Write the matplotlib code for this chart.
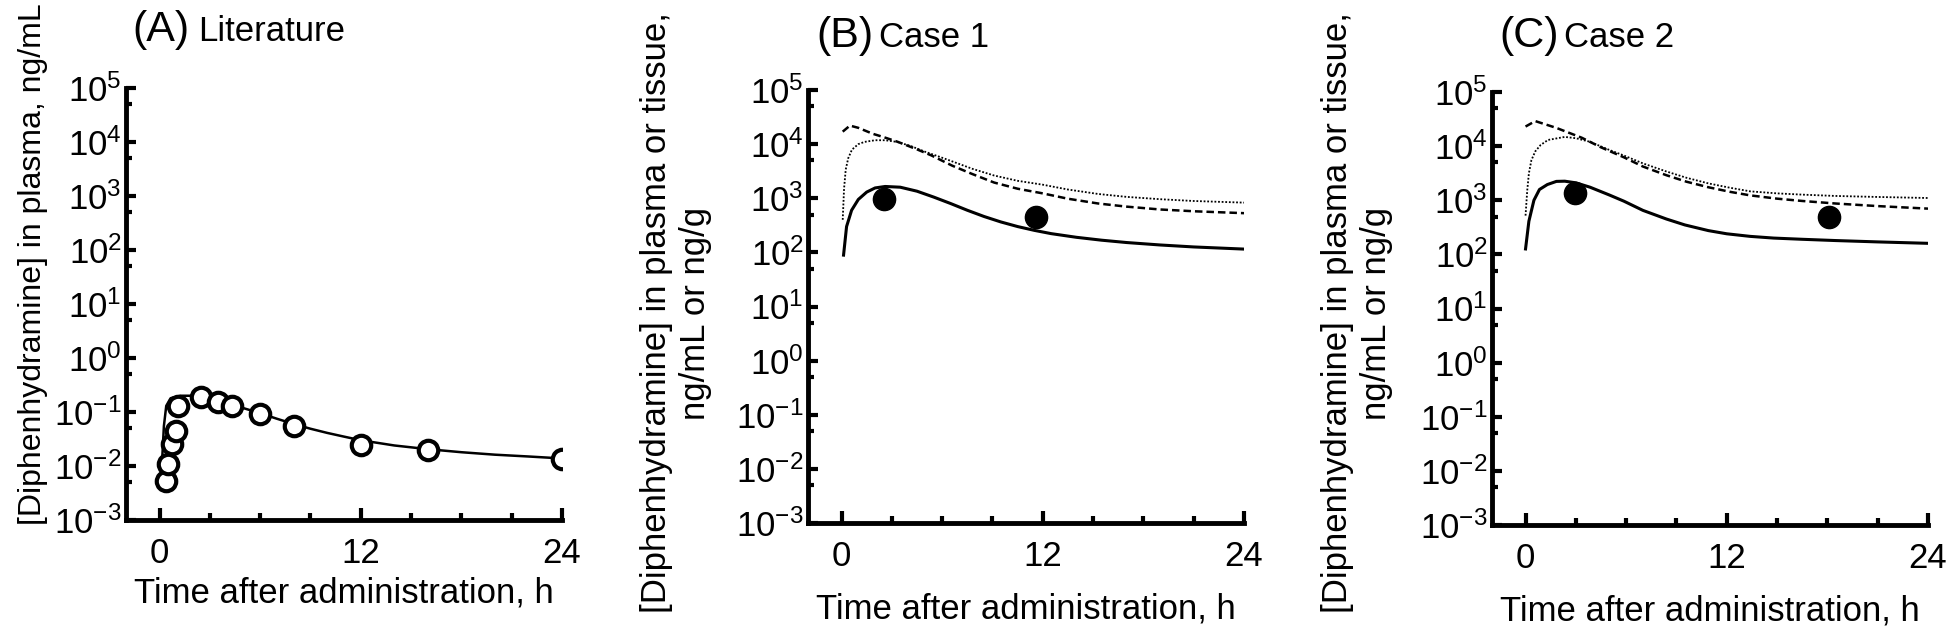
import matplotlib
matplotlib.use("Agg")
import matplotlib.pyplot as plt
from matplotlib.ticker import NullFormatter

plt.rcParams['font.family'] = 'Liberation Sans'
plt.rcParams['mathtext.default'] = 'regular'

W, H = 1946, 626

# y ticks (log) and x ticks
y_ticks = [1e-3, 1e-2, 1e-1, 1e0, 1e1, 1e2, 1e3, 1e4, 1e5]
y_labels = ['$10^{-3}$', '$10^{-2}$', '$10^{-1}$', '$10^{0}$', '$10^{1}$',
            '$10^{2}$', '$10^{3}$', '$10^{4}$', '$10^{5}$']
y_minor = [5e-3, 5e-2, 5e-1, 5e0, 5e1, 5e2, 5e3, 5e4]
x_ticks = [0, 12, 24]
x_labels = ['0', '12', '24']
x_minor = [3, 6, 9, 15, 18, 21]

# (A) literature: observed plasma conc. and fitted curve
a_obs_t = [0.4, 0.5, 0.75, 1.0, 1.1, 2.5, 3.5, 4.3, 6, 8, 12, 16, 24]
a_obs_c = [0.0052, 0.011, 0.026, 0.045, 0.13, 0.19, 0.156, 0.128, 0.091,
           0.056, 0.024, 0.020, 0.0135]
a_fit_t = [0.15, 0.26, 0.4, 0.66, 1.25, 2.45, 3.0, 4.0, 5.0, 6.0, 7.0, 8.0,
           9.0, 10, 11, 12, 14, 16, 18, 20, 22, 24]
a_fit_c = [0.012, 0.055, 0.13, 0.18, 0.2, 0.2, 0.18, 0.145, 0.118, 0.095,
           0.075, 0.06, 0.049, 0.041, 0.035, 0.03, 0.024, 0.0205, 0.018,
           0.0162, 0.015, 0.0138]

# (B) case 1
b_obs_t = [2.54, 11.57]
b_obs_c = [980, 445]
b_sol_t = [0.12, 0.3, 0.6, 1.0, 1.5, 2.0, 2.6, 3.5, 4.5, 5.5, 6.5, 7.5, 8.5,
           9.5, 10.5, 11.5, 12.5, 14, 15.5, 17, 19, 21, 24]
b_sol_c = [89, 300, 600, 950, 1300, 1550, 1650, 1600, 1350, 1050, 800, 600,
           460, 365, 300, 255, 222, 190, 168, 152, 137, 126, 115]
b_dash_t = [0.07, 0.5, 1.0, 1.87, 2.5, 3.36, 4.5, 5.35, 6.6, 7.8, 9.1, 10.5,
            12.0, 13.5, 15.3, 17, 19, 21, 24]
b_dash_c = [17000, 22000, 20000, 15500, 13500, 11000, 8000, 6200, 4000, 2800,
            1950, 1500, 1230, 980, 800, 700, 620, 575, 530]
b_dot_t = [0.07, 0.15, 0.25, 0.4, 0.62, 1.0, 1.37, 2.0, 2.6, 3.3, 4.1, 5.0,
           5.8, 6.6, 7.8, 9.1, 10.5, 12.0, 13.5, 15.3, 17, 19, 21, 24]
b_dot_c = [400, 1500, 3400, 5500, 7900, 10000, 11000, 11800, 11800, 11000,
           9300, 7200, 5900, 4800, 3500, 2630, 2100, 1780, 1450, 1200, 1060,
           960, 890, 830]

# (C) case 2
c_obs_t = [2.97, 18.1]
c_obs_c = [1340, 490]
c_sol_t = [0.0, 0.2, 0.5, 0.83, 1.3, 1.84, 2.34, 3.0, 3.85, 5.0, 5.87, 7,
           8.4, 9.5, 10.9, 12.0, 13.4, 14.8, 16.5, 18.5, 21, 24]
c_sol_c = [126, 410, 1000, 1580, 1950, 2230, 2250, 2100, 1740, 1250, 960,
           650, 450, 350, 275, 240, 215, 200, 190, 180, 170, 160]
c_dash_t = [0.0, 0.58, 1.84, 3.35, 4.5, 5.87, 7, 8.4, 9.6, 10.9, 12.2, 13.4,
            15, 16.5, 18.5, 21, 24]
c_dash_c = [23000, 29000, 21700, 14300, 9500, 6200, 4200, 2900, 2200, 1740,
            1430, 1230, 1070, 970, 870, 780, 700]
c_dot_t = [0.0, 0.1, 0.2, 0.35, 0.58, 0.9, 1.34, 2.34, 3.0, 3.85, 5.0, 5.87,
           7, 8.4, 9.6, 10.9, 12.2, 13.4, 15, 16.5, 18.5, 21, 24]
c_dot_c = [520, 1500, 3150, 5500, 8000, 10500, 13000, 14800, 14000, 12000,
           8500, 6700, 4800, 3400, 2600, 2050, 1700, 1460, 1340, 1270, 1200,
           1150, 1100]

fig = plt.figure(figsize=(W / 100, H / 100), dpi=100)


def px_axes(left, top, right, bottom):
    return fig.add_axes([left / W, 1 - bottom / H, (right - left) / W,
                         (bottom - top) / H])


def style(ax, xlab_y):
    ax.set_yscale('log')
    ax.set_xlim(-2, 24)
    ax.set_ylim(1e-3, 1e5)
    ax.set_yticks(y_ticks)
    ax.set_yticklabels(y_labels)
    ax.set_yticks(y_minor, minor=True)
    ax.yaxis.set_minor_formatter(NullFormatter())
    ax.set_xticks(x_ticks)
    ax.set_xticklabels(x_labels)
    ax.set_xticks(x_minor, minor=True)
    for s in ['top', 'right']:
        ax.spines[s].set_visible(False)
    for s in ['left', 'bottom']:
        ax.spines[s].set_linewidth(3.5)
        ax.spines[s].set_capstyle('projecting')
    ax.tick_params(which='both', direction='in', width=3, labelsize=25,
                   color='black')
    ax.tick_params(axis='x', which='major', length=9, pad=12)
    ax.tick_params(axis='x', which='minor', length=5.3)
    ax.tick_params(axis='y', which='major', length=7.5, pad=3)
    ax.tick_params(axis='y', which='minor', length=4.5)
    ax.set_xlabel('Time after administration, h', fontsize=25)
    ax.xaxis.set_label_coords(0.5, xlab_y)


def title(x1, x2, y, tag, name):
    fig.text(x1 / W, 1 - y / H, tag, fontsize=31, ha='left', va='baseline')
    fig.text(x2 / W, 1 - y / H, name, fontsize=25, ha='left', va='baseline')


axA = px_axes(126, 88, 562, 520)
axB = px_axes(808, 90, 1244, 523)
axC = px_axes(1492, 92, 1928, 525)
style(axA, -0.13)
style(axB, -0.16)
style(axC, -0.16)

axA.plot(a_fit_t, a_fit_c, color='black', lw=1.8)
axA.plot(a_obs_t, a_obs_c, 'o', mfc='white', mec='black', ms=14, mew=3,
         zorder=3)

for ax, st, sc, dt, dc, ot, oc, ob_t, ob_c in [
        (axB, b_sol_t, b_sol_c, b_dash_t, b_dash_c, b_dot_t, b_dot_c,
         b_obs_t, b_obs_c),
        (axC, c_sol_t, c_sol_c, c_dash_t, c_dash_c, c_dot_t, c_dot_c,
         c_obs_t, c_obs_c)]:
    ax.plot(st, sc, color='black', lw=2.2)
    ax.plot(dt, dc, color='black', lw=1.8, dashes=(3, 1.6))
    ax.plot(ot, oc, color='black', lw=1.3, linestyle=(0, (1, 1)))
    ax.plot(ob_t, ob_c, 'o', color='black', ms=16, zorder=3)

title(132, 198, 41, '(A)', 'Literature')
title(816, 879, 47, '(B)', 'Case 1')
title(1499, 1564, 47, '(C)', 'Case 2')

fig.text(33 / W, 1 - 264 / H, '[Diphenhydramine] in plasma, ng/mL',
         fontsize=23, rotation=90, ha='center', va='center')
ylab2 = '[Diphenhydramine] in plasma or tissue,\nng/mL or ng/g'
fig.text(676 / W, 1 - 313 / H, ylab2, fontsize=25, rotation=90,
         ha='center', va='center', multialignment='center')
fig.text(1357 / W, 1 - 313 / H, ylab2, fontsize=25, rotation=90,
         ha='center', va='center', multialignment='center')

fig.savefig('out.png', dpi=100)
